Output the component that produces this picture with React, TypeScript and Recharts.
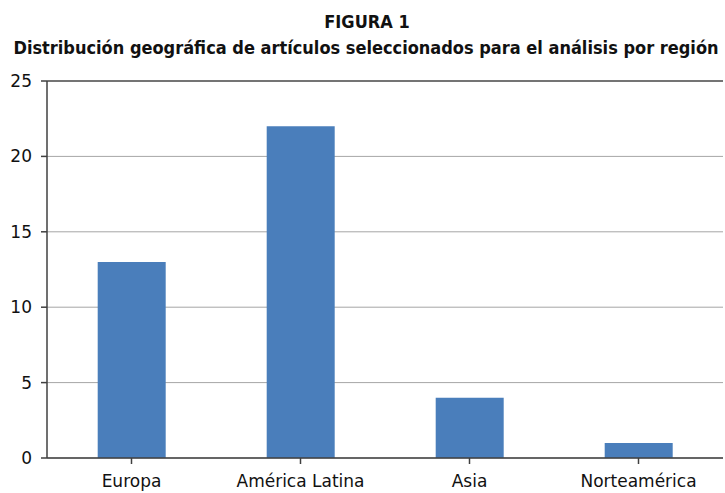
import { BarChart, Bar, XAxis, YAxis, CartesianGrid, ReferenceLine } from 'recharts'

const categories = ['Europa', 'América Latina', 'Asia', 'Norteamérica']
const articulos = [13, 22, 4, 1]
const yTicks = [0, 5, 10, 15, 20, 25]

const data = categories.map((region, i) => ({ region, articulos: articulos[i] }))

const FONT = '"DejaVu Sans", sans-serif'
const TITLE_FONT = '"DejaVu Sans Condensed", "DejaVu Sans", sans-serif'

export default function App() {
  return (
    <div style={{ position: 'absolute', left: 0, top: 0, width: 725, height: 493, background: '#fff' }}>
      <div
        style={{
          position: 'absolute',
          top: 11,
          left: 0,
          width: 734,
          textAlign: 'center',
          fontFamily: TITLE_FONT,
          fontSize: 18,
          fontWeight: 600,
          color: '#111',
        }}
      >
        FIGURA 1
      </div>
      <div
        style={{
          position: 'absolute',
          top: 37,
          left: 0,
          width: 732,
          textAlign: 'center',
          fontFamily: TITLE_FONT,
          fontSize: 18,
          fontWeight: 600,
          color: '#111',
          whiteSpace: 'nowrap',
        }}
      >
        Distribución geográfica de artículos seleccionados para el análisis por región
      </div>
      <BarChart
        width={725}
        height={493}
        data={data}
        margin={{ top: 81, right: 2, left: 0, bottom: 0 }}
        barCategoryGap="30%"
      >
        <CartesianGrid vertical={false} stroke="#a6a6a6" />
        <ReferenceLine y={25} stroke="#555" strokeWidth={1.5} />
        <XAxis
          dataKey="region"
          height={35}
          tickSize={6}
          tickMargin={11}
          stroke="#404040"
          strokeWidth={1.5}
          interval={0}
          tick={{ fill: '#111', fontSize: 17, fontFamily: FONT }}
        />
        <YAxis
          domain={[0, 25]}
          ticks={yTicks}
          width={47}
          tickSize={6}
          tickMargin={9}
          stroke="#404040"
          strokeWidth={1.5}
          tick={{ fill: '#111', fontSize: 17, fontFamily: FONT }}
        />
        <Bar dataKey="articulos" fill="#4a7ebb" isAnimationActive={false} />
      </BarChart>
    </div>
  )
}
